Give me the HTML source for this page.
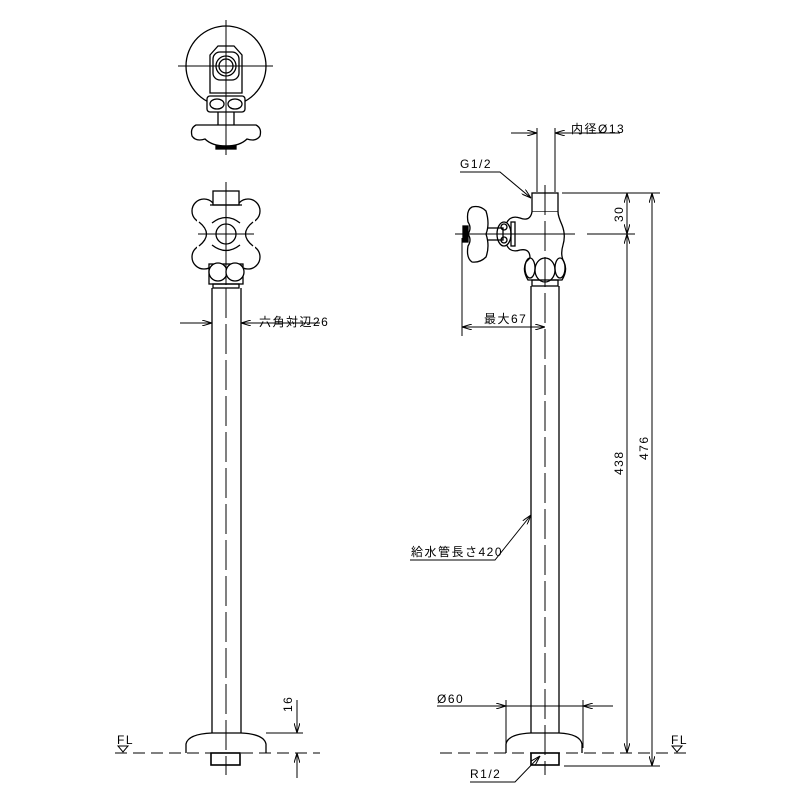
<!DOCTYPE html>
<html><head><meta charset="utf-8"><style>
html,body{margin:0;padding:0;background:#fff}
svg{display:block}
text{font-family:"Liberation Sans","Noto Sans CJK JP",sans-serif;font-size:12px;fill:#000;letter-spacing:1.5px}
</style></head><body>
<svg width="800" height="800" viewBox="0 0 800 800" xmlns="http://www.w3.org/2000/svg">
<defs>
<marker id="a" viewBox="0 0 10 6" refX="10" refY="3" markerWidth="10" markerHeight="6" orient="auto-start-reverse" markerUnits="userSpaceOnUse"><path d="M0,0 L10,3 L0,6" fill="none" stroke="#000" stroke-width="1"/></marker>
</defs>
<g fill="none" stroke="#000" stroke-width="1.3">
<!-- LEFT TOP PLAN -->
<circle cx="226" cy="66" r="40"/>
<path d="M210,55 L218,46 L234,46 L242,55 L242,93 L210,93 Z" fill="#fff"/>
<rect x="213" y="52" width="26" height="28" rx="7"/>
<circle cx="226" cy="66" r="10"/>
<circle cx="226" cy="66" r="7"/>
<rect x="207" y="96" width="38" height="16" rx="3" fill="#fff"/>
<ellipse cx="217" cy="104" rx="7" ry="5"/>
<ellipse cx="235" cy="104" rx="7" ry="5"/>
<line x1="218" y1="112" x2="218" y2="125"/><line x1="234" y1="112" x2="234" y2="125"/>
<path d="M196,125 Q190,128 192,136 Q196,142 205,139 Q212,146 226,146 Q240,146 247,139 Q256,142 260,136 Q262,128 256,125 Z" fill="#fff"/>
<rect x="216" y="146" width="20" height="3" fill="#000"/>
<line x1="226" y1="20" x2="226" y2="155" stroke-width="1"/>
<line x1="178" y1="66" x2="273" y2="66" stroke-width="1"/>

<!-- LEFT FRONT VALVE -->
<g fill="#fff">
<circle cx="204" cy="211" r="12"/><circle cx="248" cy="211" r="12"/>
<circle cx="204" cy="257" r="12"/><circle cx="248" cy="257" r="12"/>
</g>
<rect x="207" y="204" width="38" height="60" fill="#fff" stroke="none"/>
<rect x="197" y="214" width="58" height="40" fill="#fff" stroke="none"/>
<path d="M199,222 Q214,234 199,246"/>
<path d="M253,222 Q238,234 253,246"/>
<path d="M212,223 Q226,212 240,223"/>
<path d="M212,245 Q226,256 240,245"/>
<rect x="213" y="191" width="26" height="14" fill="#fff"/>
<path d="M210,205 L242,205"/>
<circle cx="226" cy="234" r="10" fill="#fff"/>
<line x1="198" y1="234" x2="254" y2="234" stroke-width="1"/>
<rect x="209" y="264" width="34" height="20" fill="#fff"/>
<circle cx="218" cy="272" r="9" fill="#fff"/><circle cx="235" cy="272" r="9" fill="#fff"/>
<rect x="213" y="284" width="26" height="4"/>
<line x1="226" y1="182" x2="226" y2="285" stroke-width="1"/>
<!-- left pipe -->
<line x1="212" y1="288" x2="212" y2="733"/>
<line x1="241" y1="288" x2="241" y2="733"/>
<line x1="226" y1="288" x2="226" y2="775" stroke-width="1" stroke-dasharray="30,6"/>
<path d="M186,753 L186,744 Q188,734 212,733 L241,733 Q264,734 266,744 L266,753"/>
<rect x="211" y="753" width="29" height="12" stroke-width="1.6"/>
<!-- 六角 dim -->
<line x1="180" y1="323" x2="212" y2="323" stroke-width="1" marker-end="url(#a)"/>
<line x1="241" y1="323" x2="320" y2="323" stroke-width="1" marker-start="url(#a)"/>
<!-- 16 dim -->
<line x1="266" y1="733" x2="303" y2="733" stroke-width="1"/>
<line x1="297" y1="700" x2="297" y2="733" stroke-width="1" marker-end="url(#a)"/>
<line x1="297" y1="778" x2="297" y2="753" stroke-width="1" marker-end="url(#a)"/>
<!-- FL left -->
<line x1="115" y1="753" x2="320" y2="753" stroke-width="1" stroke-dasharray="12,6"/>
<path d="M118,746 L128,746 L123,752 Z" stroke-width="1"/>

<!-- RIGHT SIDE VIEW -->
<rect x="532" y="193" width="26" height="19"/>
<path d="M532,212 Q530,222 520,218 Q508,214 505,228 L505,240 Q508,254 520,250 Q530,248 530,258 L526,262 Q522,270 528,280 L562,280 Q568,270 564,262 Q560,255 563,245 Q566,235 562,225 Q558,216 558,212" fill="#fff"/>
<ellipse cx="504" cy="234" rx="7" ry="12" fill="#fff"/>
<ellipse cx="504" cy="227" rx="3" ry="3"/>
<ellipse cx="504" cy="240" rx="3" ry="3"/>
<rect x="511" y="222" width="4" height="24"/>
<rect x="485" y="228" width="18" height="12"/>
<path d="M472,207 Q480,205 486,211 Q490,224 486,234 Q490,246 486,257 Q480,263 472,262 Q466,258 468,246 Q472,240 468,234 Q472,228 468,222 Q466,210 472,207 Z" fill="#fff"/>
<rect x="463" y="226" width="5" height="16" fill="#000"/>
<ellipse cx="545" cy="270" rx="10" ry="12" fill="#fff"/>
<ellipse cx="530" cy="268" rx="5" ry="10"/><ellipse cx="560" cy="268" rx="5" ry="10"/>
<rect x="532" y="280" width="26" height="6"/>
<line x1="545" y1="185" x2="545" y2="775" stroke-width="1" stroke-dasharray="30,6"/>
<line x1="455" y1="234" x2="575" y2="234" stroke-width="1"/>
<line x1="531" y1="286" x2="531" y2="733"/>
<line x1="559" y1="286" x2="559" y2="733"/>
<path d="M506,753 L506,744 Q508,734 531,733 L559,733 Q580,734 582,744 L582,753"/>
<rect x="531" y="753" width="28" height="12" stroke-width="1.6"/>
<!-- 内径 -->
<line x1="537" y1="128" x2="537" y2="192" stroke-width="1"/>
<line x1="555" y1="128" x2="555" y2="192" stroke-width="1"/>
<line x1="511" y1="133" x2="537" y2="133" stroke-width="1" marker-end="url(#a)"/>
<line x1="620" y1="133" x2="555" y2="133" stroke-width="1" marker-end="url(#a)"/>
<!-- G1/2 -->
<path d="M460,172 L500,172 L531,198" stroke-width="1" marker-end="url(#a)"/>
<!-- 最大67 -->
<line x1="462" y1="238" x2="462" y2="336" stroke-width="1"/>
<line x1="462" y1="327" x2="545" y2="327" stroke-width="1" marker-start="url(#a)" marker-end="url(#a)"/>
<!-- right dims -->
<line x1="562" y1="193" x2="660" y2="193" stroke-width="1"/>
<line x1="587" y1="234" x2="635" y2="234" stroke-width="1"/>
<line x1="627" y1="193" x2="627" y2="234" stroke-width="1" marker-start="url(#a)" marker-end="url(#a)"/>
<line x1="627" y1="234" x2="627" y2="753" stroke-width="1" marker-start="url(#a)" marker-end="url(#a)"/>
<line x1="652" y1="193" x2="652" y2="766" stroke-width="1" marker-start="url(#a)" marker-end="url(#a)"/>
<line x1="564" y1="766" x2="660" y2="766" stroke-width="1"/>
<!-- 給水管 -->
<path d="M410,560 L495,560 L531,515" stroke-width="1" marker-end="url(#a)"/>
<!-- Ø60 -->
<line x1="506" y1="700" x2="506" y2="748" stroke-width="1"/>
<line x1="583" y1="700" x2="583" y2="748" stroke-width="1"/>
<line x1="506" y1="706" x2="583" y2="706" stroke-width="1"/>
<line x1="437" y1="706" x2="506" y2="706" stroke-width="1" marker-end="url(#a)"/>
<line x1="613" y1="706" x2="583" y2="706" stroke-width="1" marker-end="url(#a)"/>
<!-- R1/2 -->
<path d="M470,782 L515,782 L540,756" stroke-width="1" marker-end="url(#a)"/>
<!-- FL right -->
<line x1="440" y1="753" x2="688" y2="753" stroke-width="1" stroke-dasharray="12,6"/>
<path d="M672,746 L682,746 L677,752 Z" stroke-width="1"/>
</g>
<g>
<text x="259" y="326" font-size="11">六角対辺26</text>
<text x="292" y="712" transform="rotate(-90 292 712)" font-size="12">16</text>
<text x="117" y="744" font-size="11">FL</text>
<text x="671" y="744" font-size="11">FL</text>
<text x="571" y="133" font-size="11">内径Ø13</text>
<text x="460" y="168" font-size="13">G1/2</text>
<text x="484" y="323" font-size="11">最大67</text>
<text x="623" y="222" transform="rotate(-90 623 222)" font-size="12">30</text>
<text x="623" y="475" transform="rotate(-90 623 475)" font-size="12">438</text>
<text x="648" y="460" transform="rotate(-90 648 460)" font-size="12">476</text>
<text x="411" y="556" font-size="11">給水管長さ420</text>
<text x="437" y="703" font-size="12">Ø60</text>
<text x="470" y="778" font-size="13">R1/2</text>
</g>
</svg>
</body></html>
